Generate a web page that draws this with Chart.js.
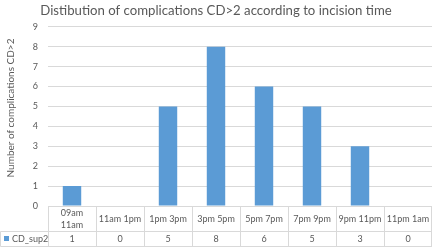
<!DOCTYPE html>
<html><head><meta charset="utf-8">
<script src="https://cdn.jsdelivr.net/npm/chart.js@4/dist/chart.umd.min.js"></script>
<style>html,body{margin:0;padding:0;background:#fff}#wrap{width:433px;height:247px}</style>
</head><body><div id="wrap"><canvas id="c" width="433" height="247"></canvas></div>
<script>
const titleText = "Distibution of complications CD>2 according to incision time";
const yTitle = "Number of complications CD>2";
const categories = [["09am","11am"],"11am 1pm","1pm 3pm","3pm 5pm","5pm 7pm","7pm 9pm","9pm 11pm","11pm 1am"];
const seriesName = "CD_sup2";
const values = [1,0,5,8,6,5,3,0];
const yTicks = [0,1,2,3,4,5,6,7,8,9];

const FONT = "Lato, 'Open Sans', sans-serif";
const TXT = "#595959", GRID = "#d9d9d9", BAR = "#5b9bd5";

const tablePlugin = {
  id: 'dataTable',
  afterDraw(chart) {
    const ctx = chart.ctx, x = chart.scales.x, a = chart.chartArea;
    const n = categories.length;
    const half = (a.right - a.left) / n / 2;
    const top = a.bottom, mid = top + 25, bot = 246.5;
    ctx.save();
    ctx.strokeStyle = GRID; ctx.lineWidth = 1;
    ctx.beginPath();
    ctx.moveTo(a.left, top + 0.5); ctx.lineTo(a.right, top + 0.5);
    ctx.moveTo(0.5, mid + 0.5); ctx.lineTo(a.right, mid + 0.5);
    ctx.moveTo(0.5, bot); ctx.lineTo(a.right, bot);
    ctx.moveTo(0.5, mid + 0.5); ctx.lineTo(0.5, bot);
    for (let i = 0; i < n; i++) {
      const xl = Math.round(x.getPixelForValue(i) - half) + 0.5;
      ctx.moveTo(xl, top); ctx.lineTo(xl, bot);
    }
    const xr = Math.round(x.getPixelForValue(n - 1) + half) - 0.5;
    ctx.moveTo(xr, top); ctx.lineTo(xr, bot);
    ctx.stroke();
    ctx.fillStyle = TXT;
    ctx.font = "9px " + FONT;
    ctx.textAlign = "center"; ctx.textBaseline = "middle";
    for (let i = 0; i < n; i++) {
      const cx = x.getPixelForValue(i);
      const c = categories[i];
      if (Array.isArray(c)) {
        ctx.fillText(c[0], cx, top + 7.5);
        ctx.fillText(c[1], cx, top + 19);
      } else {
        ctx.fillText(c, cx, top + 13);
      }
      ctx.fillText(String(values[i]), cx, mid + 8);
    }
    ctx.fillStyle = BAR;
    ctx.fillRect(4, mid + 5, 5, 5);
    ctx.fillStyle = TXT; ctx.textAlign = "left";
    ctx.fillText(seriesName, 12, mid + 8);
    // y axis title
    ctx.translate(10.5, 108);
    ctx.rotate(-Math.PI / 2);
    ctx.textAlign = "center";
    ctx.font = "10px " + FONT;
    ctx.fillText(yTitle, 0, 0);
    ctx.restore();
  }
};

new Chart(document.getElementById('c'), {
  type: 'bar',
  data: {
    labels: categories,
    datasets: [{ label: seriesName, data: values, backgroundColor: BAR,
      categoryPercentage: 0.8, barPercentage: 0.48 }]
  },
  options: {
    responsive: false, animation: false,
    layout: { padding: { top: 0, bottom: 41, right: 1, left: 0 } },
    plugins: {
      legend: { display: false },
      tooltip: { enabled: false },
      title: { display: true, text: titleText, color: TXT,
        font: { family: FONT, size: 13.2, weight: 'normal' },
        padding: { top: 3, bottom: 8 } }
    },
    scales: {
      x: { display: false },
      y: {
        min: 0, max: 9,
        afterFit(s) { s.width = 48; },
        afterBuildTicks(s) { s.ticks = yTicks.map(v => ({ value: v })); },
        border: { display: false },
        grid: { color: GRID, drawTicks: false },
        ticks: { color: TXT, font: { family: FONT, size: 9 }, padding: 10 }
      }
    }
  },
  plugins: [tablePlugin]
});
</script></body></html>
